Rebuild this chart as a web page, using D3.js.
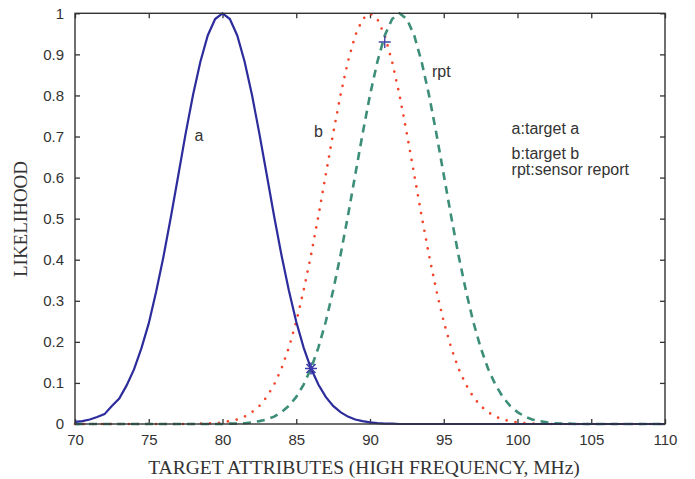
<!DOCTYPE html>
<html lang="en">
<head>
<meta charset="UTF-8">
<title>Likelihood curves</title>
<style>
  body { margin: 0; background: #fff; }
  .tick text { font-family: "Liberation Sans", Arial, sans-serif; font-size: 15px; fill: #333; }
  .tick line { stroke: #333; stroke-width: 1.3; }
</style>
</head>
<body>
<svg id="chart"></svg>
<script src="https://d3js.org/d3.v7.min.js"></script>
<script>
    // x grid: 70 .. 110 in steps of 0.5
    var xs = d3.range(70, 110.01, 0.5);

    // target a (solid blue)
    var targetA = [0.005, 0.007, 0.011, 0.017, 0.024, 0.044, 0.062, 0.094, 0.133, 0.184,
        0.245, 0.322, 0.408, 0.504, 0.605, 0.707, 0.801, 0.882, 0.946, 0.986,
        1, 0.986, 0.946, 0.882, 0.801, 0.707, 0.607, 0.506, 0.411, 0.325,
        0.249, 0.186, 0.135, 0.096, 0.066, 0.044, 0.029, 0.018, 0.011, 0.007,
        0.004, 0.002, 0.001, 0.001, 0, 0, 0, 0, 0, 0,
        0, 0, 0, 0, 0, 0, 0, 0, 0, 0,
        0, 0, 0, 0, 0, 0, 0, 0, 0, 0,
        0, 0, 0, 0, 0, 0, 0, 0, 0, 0, 0];

    // target b (red dots)
    var targetB = [0, 0, 0, 0, 0, 0, 0, 0, 0, 0,
        0, 0, 0, 0, 0, 0, 0, 0.001, 0.001, 0.002,
        0.004, 0.007, 0.011, 0.018, 0.029, 0.044, 0.066, 0.096, 0.135, 0.186,
        0.249, 0.325, 0.411, 0.506, 0.607, 0.707, 0.801, 0.882, 0.946, 0.986,
        1, 0.986, 0.946, 0.882, 0.801, 0.707, 0.607, 0.506, 0.411, 0.325,
        0.249, 0.186, 0.135, 0.096, 0.066, 0.044, 0.029, 0.018, 0.011, 0.007,
        0.004, 0.002, 0.001, 0.001, 0, 0, 0, 0, 0, 0,
        0, 0, 0, 0, 0, 0, 0, 0, 0, 0, 0];

    // sensor report (green dashes)
    var sensorRpt = [0, 0, 0, 0, 0, 0, 0, 0, 0, 0,
        0, 0, 0, 0, 0, 0, 0, 0, 0, 0,
        0, 0.001, 0.001, 0.002, 0.004, 0.007, 0.011, 0.018, 0.029, 0.044,
        0.066, 0.096, 0.135, 0.186, 0.249, 0.325, 0.411, 0.506, 0.607, 0.707,
        0.801, 0.882, 0.946, 0.986, 1, 0.986, 0.946, 0.882, 0.801, 0.707,
        0.607, 0.506, 0.411, 0.325, 0.249, 0.186, 0.135, 0.096, 0.066, 0.044,
        0.029, 0.018, 0.011, 0.007, 0.004, 0.002, 0.001, 0.001, 0, 0,
        0, 0, 0, 0, 0, 0, 0, 0, 0, 0, 0];

    var xTicks = [70, 75, 80, 85, 90, 95, 100, 105, 110];
    var yTicks = [0, 0.1, 0.2, 0.3, 0.4, 0.5, 0.6, 0.7, 0.8, 0.9, 1];

    var starPoint = {x: 86, y: 0.135};   // intersection marker on curve a
    var plusPoint = {x: 91, y: 0.93};    // marker near rpt peak

    var curveLabels = [
        {text: "a", x: 78.1, y: 0.69},
        {text: "b", x: 86.2, y: 0.70},
        {text: "rpt", x: 94.2, y: 0.845}
    ];
    var legendLines = [
        {text: "a:target a", y: 0.707},
        {text: "b:target b", y: 0.645},
        {text: "rpt:sensor report", y: 0.606}
    ];

    var outerWidth = 695, outerHeight = 479;
    var plotLeft = 75, plotRight = 665, plotTop = 13.3, plotBottom = 424;

    var svg = d3.select("#chart")
        .attr("width", outerWidth)
        .attr("height", outerHeight);

    var x = d3.scaleLinear().domain([70, 110]).range([plotLeft, plotRight]);
    var y = d3.scaleLinear().domain([0, 1]).range([plotBottom, plotTop]);
    var fmt = function(d) { return String(+d.toFixed(1)); };

    // axes, ticks pointing inward on all four sides
    svg.append("g")
        .attr("transform", `translate(0, ${plotBottom})`)
        .call(d3.axisBottom(x).tickValues(xTicks).tickFormat(fmt).tickSize(-5).tickSizeOuter(0).tickPadding(10))
        .call(g => g.select(".domain").remove());
    svg.append("g")
        .attr("transform", `translate(0, ${plotTop})`)
        .call(d3.axisTop(x).tickValues(xTicks).tickFormat("").tickSize(-5).tickSizeOuter(0))
        .call(g => g.select(".domain").remove());
    svg.append("g")
        .attr("transform", `translate(${plotLeft}, 0)`)
        .call(d3.axisLeft(y).tickValues(yTicks).tickFormat(fmt).tickSize(-5).tickSizeOuter(0).tickPadding(11))
        .call(g => g.select(".domain").remove());
    svg.append("g")
        .attr("transform", `translate(${plotRight}, 0)`)
        .call(d3.axisRight(y).tickValues(yTicks).tickFormat("").tickSize(-5).tickSizeOuter(0))
        .call(g => g.select(".domain").remove());

    var line = d3.line()
        .x(function(d, i) { return x(xs[i]); })
        .y(function(d) { return y(d); });

    svg.append("path")
        .datum(targetB)
        .attr("d", line)
        .attr("fill", "none")
        .attr("stroke", "#f2452a")
        .attr("stroke-width", 2.7)
        .attr("stroke-linecap", "round")
        .attr("stroke-dasharray", "0,9");

    svg.append("path")
        .datum(sensorRpt)
        .attr("d", line)
        .attr("fill", "none")
        .attr("stroke", "#3c8e79")
        .attr("stroke-width", 2.6)
        .attr("stroke-dasharray", "8,6");

    svg.append("path")
        .datum(targetA)
        .attr("d", line)
        .attr("fill", "none")
        .attr("stroke", "#2c2c9c")
        .attr("stroke-width", 2.2);

    // box
    svg.append("rect")
        .attr("x", plotLeft).attr("y", plotTop)
        .attr("width", plotRight - plotLeft).attr("height", plotBottom - plotTop)
        .attr("fill", "none")
        .attr("stroke", "#333")
        .attr("stroke-width", 1.4);

    // markers
    var sx = x(starPoint.x), sy = y(starPoint.y);
    svg.append("path")
        .attr("d", `M${sx-6},${sy}H${sx+6}M${sx},${sy-6}V${sy+6}M${sx-4.5},${sy-4.5}L${sx+4.5},${sy+4.5}M${sx-4.5},${sy+4.5}L${sx+4.5},${sy-4.5}`)
        .attr("stroke", "#3a3aa8")
        .attr("stroke-width", 1.6)
        .attr("fill", "none");
    var px = x(plusPoint.x), py = y(plusPoint.y);
    svg.append("path")
        .attr("d", `M${px-6},${py}H${px+6}M${px},${py-6}V${py+6}`)
        .attr("stroke", "#4646a8")
        .attr("stroke-width", 1.4)
        .attr("fill", "none");

    // curve labels
    svg.selectAll(".clabel")
        .data(curveLabels)
        .enter().append("text")
        .attr("x", d => x(d.x))
        .attr("y", d => y(d.y))
        .attr("font-family", "Liberation Sans, Arial, sans-serif")
        .attr("font-size", 16)
        .attr("fill", "#333")
        .text(d => d.text);

    // legend text
    svg.selectAll(".legend")
        .data(legendLines)
        .enter().append("text")
        .attr("x", x(99.6))
        .attr("y", d => y(d.y))
        .attr("font-family", "Liberation Sans, Arial, sans-serif")
        .attr("font-size", 16)
        .attr("fill", "#333")
        .text(d => d.text);

    // axis titles
    svg.append("text")
        .attr("x", 364)
        .attr("y", 474)
        .attr("text-anchor", "middle")
        .attr("font-family", "Liberation Serif, Times New Roman, serif")
        .attr("font-size", 19.5)
        .attr("fill", "#333")
        .text("TARGET ATTRIBUTES (HIGH FREQUENCY, MHz)");

    svg.append("text")
        .attr("transform", "translate(27, 219) rotate(-90)")
        .attr("text-anchor", "middle")
        .attr("font-family", "Liberation Serif, Times New Roman, serif")
        .attr("font-size", 19)
        .attr("fill", "#333")
        .text("LIKELIHOOD");
</script>
</body>
</html>
